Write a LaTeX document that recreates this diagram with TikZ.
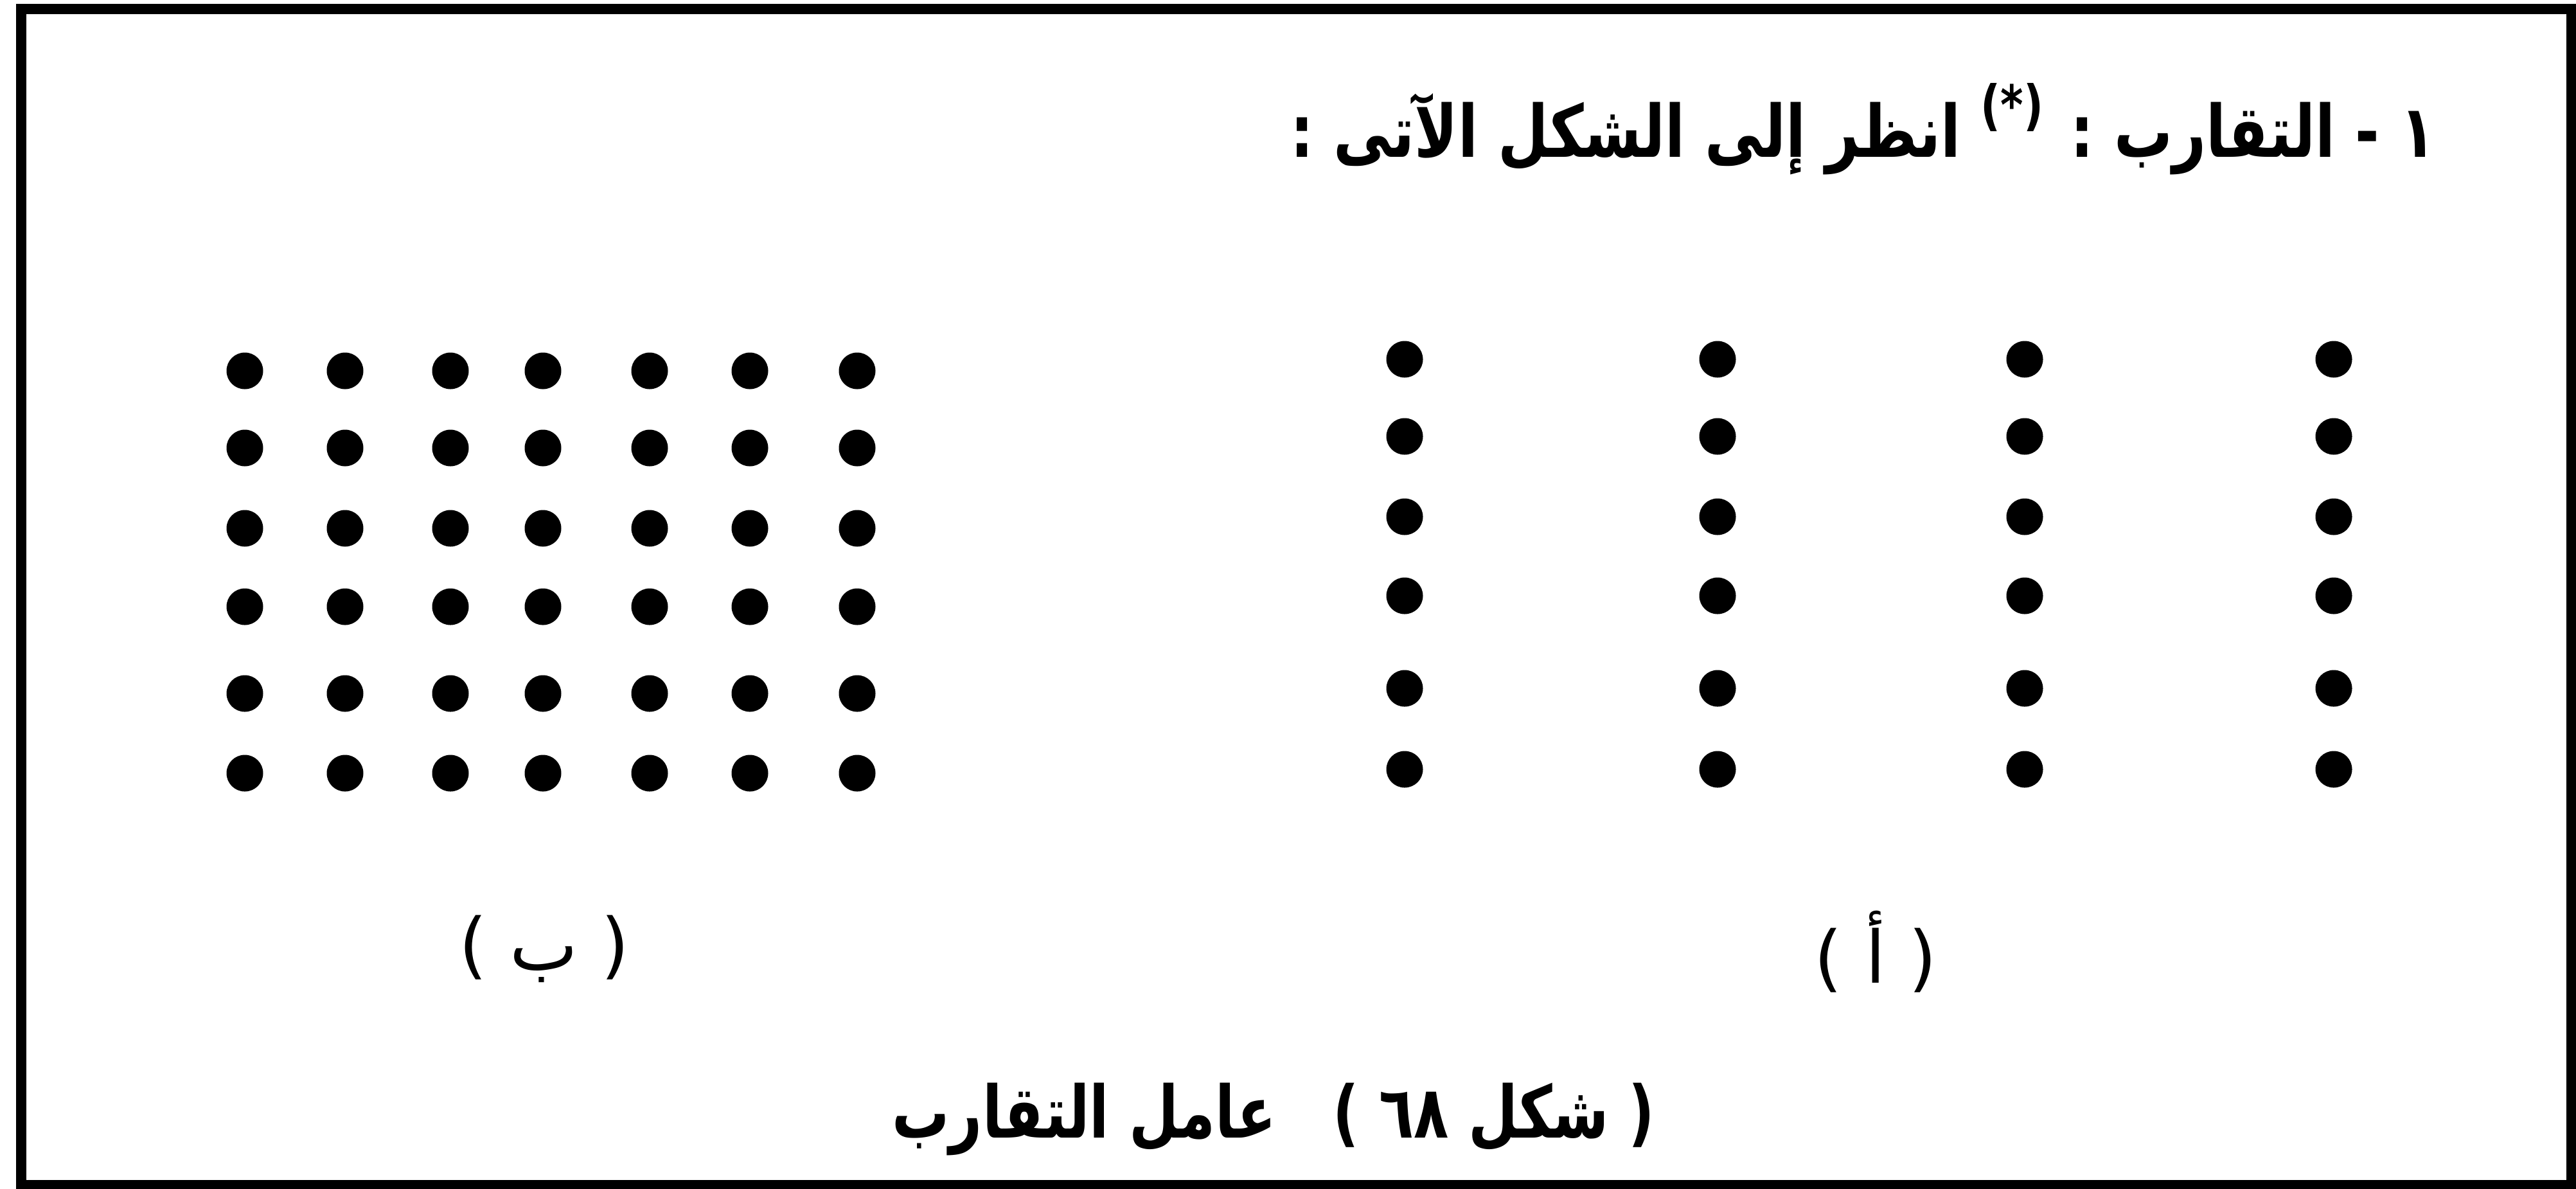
\documentclass[tikz,border=0pt]{standalone}
\usepackage{fontspec}
\usepackage{graphicx}
\usepackage{tikz}
\usetikzlibrary{positioning}
\TeXXeTstate=1
\newfontfamily\arabicfont[Script=Arabic]{DejaVu Sans}

\begin{document}
\begin{tikzpicture}[
        pdot/.style={circle, fill=black, draw=none, minimum size=5.7mm, inner sep=0pt},
        lbl/.style={font=\arabicfont\fontsize{32}{36}\selectfont, inner sep=0pt},
        ttl/.style={font=\arabicfont\bfseries\fontsize{32}{38}\selectfont, inner sep=0pt}]
    \useasboundingbox (0,0) rectangle (40.09,-18.49);
    \draw[line width=0.16cm] (0.33,-0.135) rectangle (40.015,-18.44);
    \node[ttl, anchor=base east] (title) at (37.91,-2.44) {\scalebox{0.805}[1]{\beginR ١ - التقارب : \raisebox{0.45em}{\fontsize{24}{24}\selectfont(*)} انظر إلى الشكل الآتى :\endR}};
    % group b
    \foreach \x [count=\c] in {3.81,5.37,7.01,8.45,10.11,11.67,13.34}
        \foreach \y [count=\r] in {5.77,6.97,8.22,9.44,10.79,12.03}
            \node[pdot] (b-\r-\c) at (\x,-\y) {};
    % group a
    \foreach \x [count=\c] in {21.86,26.73,31.51,36.32}
        \foreach \y [count=\r] in {5.59,6.79,8.04,9.27,10.71,11.97}
            \node[pdot] (a-\r-\c) at (\x,-\y) {};
    \node[lbl] (labelB) at (8.47,-14.76) {\beginR( ب )\endR};
    \node[lbl] (labelA) at (29.19,-14.81) {\beginR( أ )\endR};
    \node[ttl, anchor=base] (caption) at (19.82,-17.70) {\scalebox{0.79}[1]{\beginR ( شكل ٦٨ )\quad عامل التقارب\endR}};
\end{tikzpicture}
\end{document}
